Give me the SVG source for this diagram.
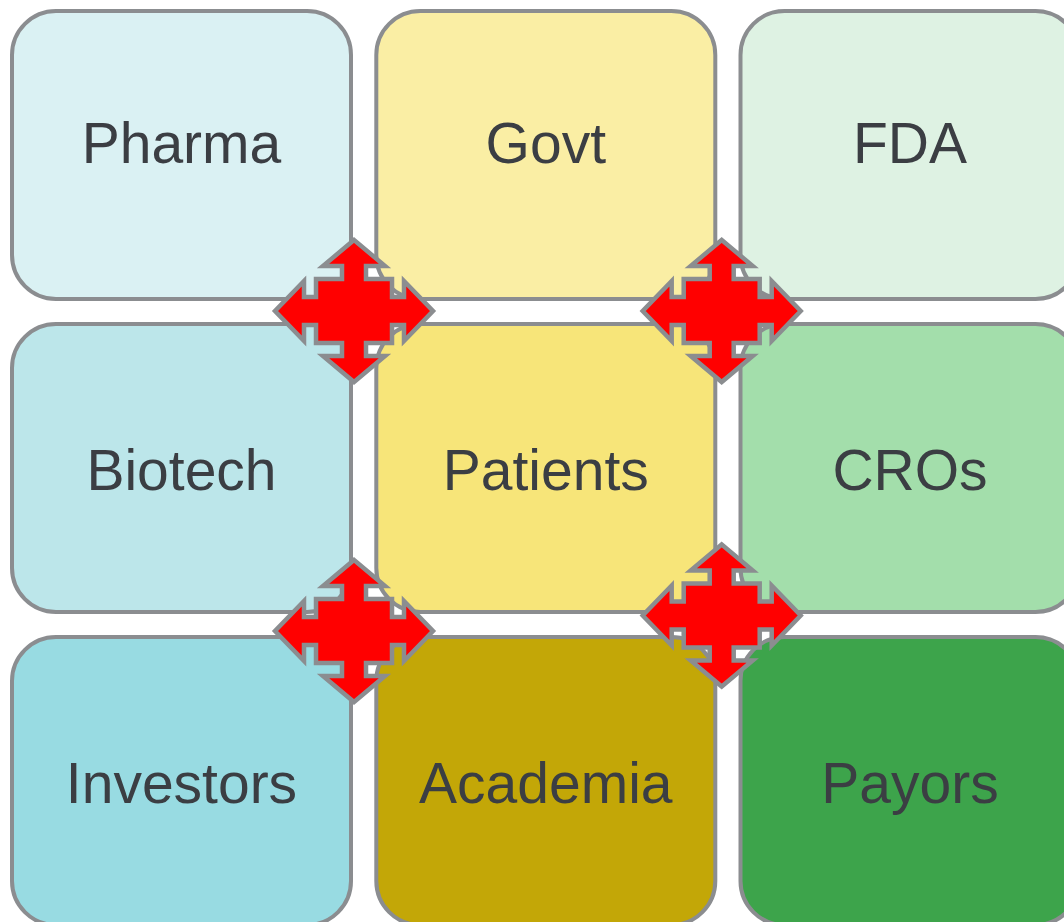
<svg xmlns="http://www.w3.org/2000/svg" xmlns:xlink="http://www.w3.org/1999/xlink" width="1064" height="922" viewBox="0 0 1064 922">
  <style>
    .box { stroke: #8b8d90; stroke-width: 4; }
    .label { font-family: "Liberation Sans", Arial, sans-serif; font-size: 57px; fill: #3b3e43; text-anchor: middle; }
    .quad { fill: #ff0000; stroke: #8b8d90; stroke-width: 4.5; stroke-linejoin: miter; stroke-miterlimit: 10; }
  </style>
  <defs>
    <!-- four-way arrow, centred on 0,0 -->
    <path id="quadArrow" class="quad" d="M 0,-71 L 31,-45 L 12,-45 L 12,-32 L 38,-32 L 38,-14 L 50,-14 L 50,-30 L 79,0 L 50,30 L 50,14 L 38,14 L 38,32 L 12,32 L 12,45 L 31,45 L 0,71 L -31,45 L -12,45 L -12,32 L -38,32 L -38,14 L -50,14 L -50,30 L -79,0 L -50,-30 L -50,-14 L -38,-14 L -38,-32 L -12,-32 L -12,-45 L -31,-45 Z"/>
  </defs>
  <rect width="1064" height="922" fill="#ffffff"/>

  <!-- top row -->
  <g id="pharma">
    <rect class="box" x="12" y="11" width="339" height="288" rx="44" fill="#daf1f3"/>
    <text class="label" x="181.5" y="163">Pharma</text>
  </g>
  <g id="govt">
    <rect class="box" x="376.3" y="11" width="339" height="288" rx="44" fill="#faeea4"/>
    <text class="label" x="545.8" y="163">Govt</text>
  </g>
  <g id="fda">
    <rect class="box" x="740.5" y="11" width="339" height="288" rx="44" fill="#def2e3"/>
    <text class="label" x="910" y="163">FDA</text>
  </g>

  <!-- middle row -->
  <g id="biotech">
    <rect class="box" x="12" y="324" width="339" height="288" rx="44" fill="#bce6ea"/>
    <text class="label" x="181.5" y="490">Biotech</text>
  </g>
  <g id="patients">
    <rect class="box" x="376.3" y="324" width="339" height="288" rx="44" fill="#f7e579"/>
    <text class="label" x="545.8" y="490">Patients</text>
  </g>
  <g id="cros">
    <rect class="box" x="740.5" y="324" width="339" height="288" rx="44" fill="#a3deab"/>
    <text class="label" x="910" y="490">CROs</text>
  </g>

  <!-- bottom row -->
  <g id="investors">
    <rect class="box" x="12" y="637" width="339" height="288" rx="44" fill="#98dbe2"/>
    <text class="label" x="181.5" y="803">Investors</text>
  </g>
  <g id="academia">
    <rect class="box" x="376.3" y="637" width="339" height="288" rx="44" fill="#c3a707"/>
    <text class="label" x="545.8" y="803">Academia</text>
  </g>
  <g id="payors">
    <rect class="box" x="740.5" y="637" width="339" height="288" rx="44" fill="#3da44b"/>
    <text class="label" x="910" y="803">Payors</text>
  </g>

  <!-- connectors: four-way arrows at the junctions -->
  <g id="connectors">
    <use xlink:href="#quadArrow" href="#quadArrow" transform="translate(354,311)"/>
    <use xlink:href="#quadArrow" href="#quadArrow" transform="translate(721.7,311)"/>
    <use xlink:href="#quadArrow" href="#quadArrow" transform="translate(354,631)"/>
    <use xlink:href="#quadArrow" href="#quadArrow" transform="translate(721.7,615.5)"/>
  </g>
</svg>
